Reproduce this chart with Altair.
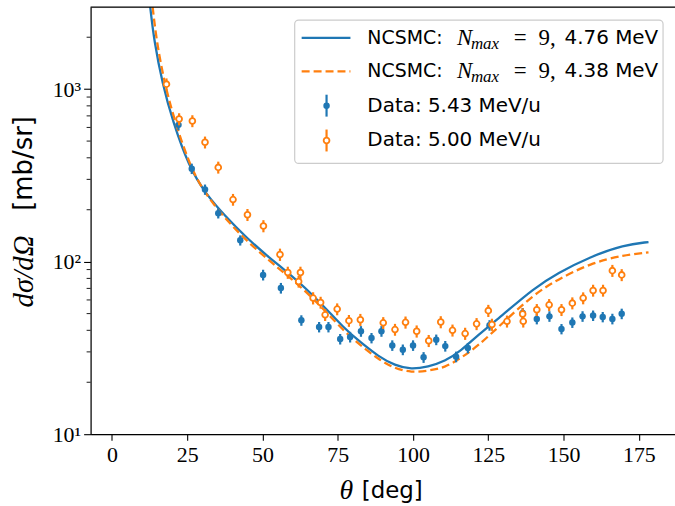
import altair as alt
import pandas as pd

# ---------------- data ----------------
# theory curves (theta [deg], dsigma/dOmega [mb/sr])
th_blue = [12.7, 14.0, 16.8, 20.1, 25.6, 31.1, 37.8, 44.4, 53.2, 55.4, 66.4, 77.4, 82.9, 88.4,
           94.0, 99.4, 105.0, 110.5, 116.0, 121.5, 129.2, 140.2, 147.9, 158.9, 170.0, 178.2]
xs_blue = [3000, 1900, 1070, 658, 353, 248, 182, 139, 102, 95.7, 65.8, 40.4, 33.8, 28.3,
           25.0, 23.7, 24.6, 26.4, 30.5, 37.5, 48.2, 70.3, 85.7, 107, 125, 130]

th_orange = [13.5, 14.8, 17.5, 20.8, 26.2, 31.5, 38.0, 44.5, 53.2, 55.4, 66.4, 77.4, 82.9, 88.4,
             94.0, 99.4, 105.0, 110.5, 116.0, 121.5, 129.2, 140.3, 147.9, 158.9, 170.1, 178.2]
xs_orange = [3000, 1900, 1070, 658, 345, 240, 175, 133, 98, 91.6, 63, 38.8, 32.5, 27.2,
             24.0, 22.8, 23.3, 24.3, 27.7, 32.4, 43.2, 65.1, 78.4, 98, 109.3, 113.2]

# measured data 5.43 MeV/u
d1_th = [22.1, 26.5, 30.9, 35.3, 42.6, 50.2, 56.1, 62.9, 68.8, 71.9, 75.8, 79.1, 82.7, 86.2,
         89.5, 93.1, 96.6, 100.0, 103.5, 107.7, 110.7, 114.3, 118.2, 125.4, 136.4, 141.1,
         145.3, 149.3, 152.9, 156.3, 159.8, 163.0, 166.2, 169.3]
d1_xs = [621, 346, 262, 191, 133, 83.8, 70.3, 45.7, 41.8, 41.8, 35.6, 36.6, 39.5, 36.1,
         39.5, 32.7, 30.9, 32.7, 27.9, 35.3, 32.4, 28.1, 31.6, 42.8, 50.4, 46.6,
         48.2, 40.7, 44.4, 48.2, 48.7, 47.8, 46.6, 49.9]
d1_err = [43, 24, 18, 13, 9, 6, 5, 3.2, 2.9, 2.9, 2.5, 2.6, 2.8, 2.5,
          2.8, 2.3, 2.2, 2.3, 2.0, 2.5, 2.3, 2.0, 2.2, 3.0, 3.5, 3.3,
          3.4, 2.8, 3.1, 3.4, 3.4, 3.3, 3.3, 3.5]

# measured data 5.00 MeV/u
d2_th = [18.1, 22.3, 26.7, 30.9, 35.3, 40.2, 45.0, 50.3, 55.8, 58.4, 62.0, 62.6, 66.8, 69.3,
         70.8, 74.8, 78.7, 82.5, 90.1, 94.0, 97.5, 101.2, 105.2, 109.2, 113.1, 117.3, 121.1,
         125.0, 126.2, 131.2, 136.4, 136.6, 141.1, 145.2, 149.3, 152.9, 156.5, 159.8, 163.1,
         166.2, 169.3]
d2_xs = [1069, 671, 654, 492, 352, 229, 187, 161, 110, 86.5, 76.7, 86.5, 61.5, 58,
         49.2, 53.1, 45.5, 46.1, 44.2, 40.4, 44.5, 39.5, 34.8, 44.7, 40.0, 38.3, 43.6,
         52, 43.2, 45.1, 49.7, 45.1, 52.6, 56.2, 52.6, 57.5, 61.5, 68.1, 68.1,
         88.7, 83.8]
d2_err = [85, 54, 52, 39, 28, 18, 15, 13, 9, 7, 6, 7, 5, 4.6,
          3.9, 4.2, 3.6, 3.7, 3.5, 3.2, 3.6, 3.2, 2.8, 3.6, 3.2, 3.1, 3.5,
          4.2, 3.5, 3.6, 4.0, 3.6, 4.2, 4.5, 4.2, 4.6, 4.9, 5.4, 5.4,
          7.1, 6.7]

x_ticks = [0, 25, 50, 75, 100, 125, 150, 175]
y_major = [10, 100, 1000]
y_minor = [20, 30, 40, 50, 60, 70, 80, 90, 200, 300, 400, 500, 600, 700, 800, 900, 2000]

BLUE = "#1f77b4"
ORANGE = "#ff7f0e"
SERIF = "Liberation Serif"
SANS = "DejaVu Sans"

# ---------------- scales ----------------
xsc = alt.Scale(domain=[-7.1, 187.0], nice=False, zero=False)
ysc = alt.Scale(type="log", domain=[10, 2990], nice=False)

xax = alt.Axis(values=x_ticks, title=None, grid=False, tickSize=6, tickColor="black",
               domainColor="black", labelFont=SERIF, labelFontSize=22, labelColor="black",
               labelPadding=4, tickWidth=1.1, domainWidth=1.2)
yax = alt.Axis(values=y_major, title=None, grid=False, tickSize=7, tickColor="black",
               domainColor="black", labelFont=SERIF, labelFontSize=22, labelColor="black",
               labelPadding=3, tickWidth=1.1, domainWidth=1.2,
               labelExpr="datum.value == 10 ? '10¹' : datum.value == 100 ? '10²' : '10³'")

X = alt.X("t:Q", scale=xsc, axis=xax)
Y = alt.Y("v:Q", scale=ysc, axis=yax)

df_b = pd.DataFrame({"t": th_blue, "v": xs_blue})
df_o = pd.DataFrame({"t": th_orange, "v": xs_orange})
df_1 = pd.DataFrame({"t": d1_th, "v": d1_xs, "lo": [a - e for a, e in zip(d1_xs, d1_err)],
                     "hi": [a + e for a, e in zip(d1_xs, d1_err)]})
df_2 = pd.DataFrame({"t": d2_th, "v": d2_xs, "lo": [a - e for a, e in zip(d2_xs, d2_err)],
                     "hi": [a + e for a, e in zip(d2_xs, d2_err)]})

line_b = alt.Chart(df_b).mark_line(color=BLUE, strokeWidth=2.3, clip=True,
                                   interpolate="basis").encode(x=X, y=Y)
line_o = alt.Chart(df_o).mark_line(color=ORANGE, strokeWidth=2.3, clip=True, strokeDash=[8, 4],
                                   interpolate="basis").encode(x=X, y=Y)

eb_1 = alt.Chart(df_1).mark_rule(color=BLUE, strokeWidth=2.2).encode(
    x=X, y=alt.Y("lo:Q", scale=ysc, axis=yax), y2="hi:Q")
pt_1 = alt.Chart(df_1).mark_point(filled=True, color=BLUE, size=42, opacity=1).encode(x=X, y=Y)
eb_2 = alt.Chart(df_2).mark_rule(color=ORANGE, strokeWidth=2.2).encode(
    x=X, y=alt.Y("lo:Q", scale=ysc, axis=yax), y2="hi:Q")
pt_2 = alt.Chart(df_2).mark_point(filled=True, fill="white", stroke=ORANGE, strokeWidth=1.8,
                                  size=34, opacity=1).encode(x=X, y=Y)

minor = alt.Chart(pd.DataFrame({"v": y_minor})).mark_rule(color="black", strokeWidth=0.9,
                                                            clip=False).encode(
    x=alt.value(0), x2=alt.value(-4), y=alt.Y("v:Q", scale=ysc, axis=yax))


def one():
    return alt.Data(values=[{"k": 1}])


def txt(s, x, y, font=SANS, size=20, style="normal", align="left", angle=0, baseline="middle"):
    kw = dict(text=s, font=font, fontSize=size, align=align, baseline=baseline,
              color="black", clip=False)
    if style != "normal":
        kw["fontStyle"] = style
    if angle:
        kw["angle"] = angle
    return alt.Chart(one()).mark_text(**kw).encode(x=alt.value(x), y=alt.value(y))


# top spine of the frame
top_spine = alt.Chart(one()).mark_rule(color="black", strokeWidth=1.2).encode(
    x=alt.value(0), x2=alt.value(600), y=alt.value(0))

# ---------------- legend (hand-built) ----------------
leg_box = alt.Chart(one()).mark_rect(fill="white", fillOpacity=0.85, stroke="#cccccc",
                                     strokeWidth=1.2, cornerRadius=4).encode(
    x=alt.value(205), x2=alt.value(575), y=alt.value(13), y2=alt.value(157))
rows = [31, 64.5, 99, 134]
leg_l1 = alt.Chart(one()).mark_rule(color=BLUE, strokeWidth=2.3).encode(
    x=alt.value(212), x2=alt.value(261), y=alt.value(rows[0]))
leg_l2 = alt.Chart(one()).mark_rule(color=ORANGE, strokeWidth=2.3, strokeDash=[8, 4]).encode(
    x=alt.value(212), x2=alt.value(261), y=alt.value(rows[1]))
leg_e1 = alt.Chart(one()).mark_rule(color=BLUE, strokeWidth=2.2).encode(
    x=alt.value(237), y=alt.value(rows[2] - 11), y2=alt.value(rows[2] + 11))
leg_p1 = alt.Chart(one()).mark_point(filled=True, color=BLUE, size=42, opacity=1).encode(
    x=alt.value(237), y=alt.value(rows[2]))
leg_e2 = alt.Chart(one()).mark_rule(color=ORANGE, strokeWidth=2.2).encode(
    x=alt.value(237), y=alt.value(rows[3] - 11), y2=alt.value(rows[3] + 11))
leg_p2 = alt.Chart(one()).mark_point(filled=True, fill="white", stroke=ORANGE, strokeWidth=1.8,
                                     size=34, opacity=1).encode(
    x=alt.value(237), y=alt.value(rows[3]))

leg_txt = []
for r, mev in [(rows[0], "4.76 MeV"), (rows[1], "4.38 MeV")]:
    leg_txt += [
        txt("NCSMC:", 278, r, size=19),
        txt("N", 368, r, font=SERIF, size=23, style="italic"),
        txt("max", 382, r + 6, font=SERIF, size=17, style="italic"),
        txt("=", 425, r, font=SERIF, size=23),
        txt("9,", 450, r, font=SERIF, size=23),
        txt(mev, 476, r),
    ]
leg_txt += [txt("Data: 5.43 MeV/u", 278, rows[2]), txt("Data: 5.00 MeV/u", 278, rows[3])]

# ---------------- axis titles (hand-built, mixed fonts) ----------------
titles = [
    txt("θ", 257, 486, font=SERIF, size=28, style="italic", align="center"),
    txt("[deg]", 303, 486, size=23, align="center"),
    txt("dσ/dΩ", -67, 265.5, font=SERIF, size=29, style="italic", align="center", angle=270),
    txt("[mb/sr]", -67, 157, size=26, align="center", angle=270),
]

chart = alt.layer(
    line_b, line_o, eb_1, pt_1, eb_2, pt_2, minor, top_spine,
    leg_box, leg_l1, leg_l2, leg_e1, leg_p1, leg_e2, leg_p2, *leg_txt, *titles
).properties(
    width=587, height=429,
    padding={"left": 91, "top": 6, "right": 0, "bottom": 71},
    autosize=alt.AutoSizeParams(type="none"),
).configure_view(stroke="black", strokeWidth=1.2).configure(background="white")

chart.save("out.html", embed_options={"renderer": "svg", "actions": False})
